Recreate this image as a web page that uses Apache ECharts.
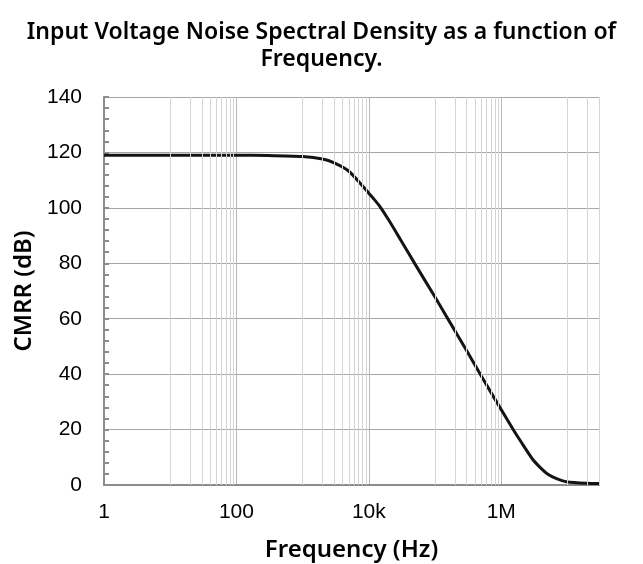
<!DOCTYPE html>
<html>
<head>
<meta charset="utf-8">
<script src="https://cdn.jsdelivr.net/npm/echarts@6/dist/echarts.min.js"></script>
<style>
  html, body { margin: 0; padding: 0; background: #fff; }
  #main { width: 643px; height: 564px; }
</style>
</head>
<body>
<div id="main"></div>
<script>
// frequency (Hz) and CMRR (dB)
var freqs = [1, 10, 100, 300, 1000, 2000, 3000, 5000, 8000, 10000, 12500, 15000, 20000, 30000,
  50000, 100000, 170000, 300000, 500000, 1e6, 1.5e6, 2e6, 3e6, 4e6, 5e6, 7e6, 1e7, 2e7, 3e7];
var cmrr = [119, 119, 119, 118.9, 118.5, 117.6, 116.2, 113.2, 108, 105.3, 102.6, 100.2, 95.6, 88.6,
  79.7, 67.8, 58.5, 48.5, 39.3, 27.2, 20.2, 15.5, 9.2, 6.0, 4.0, 2.2, 1.1, 0.6, 0.5];

// minor vertical gridlines (excel style, log base 100)
var minorFreqs = [10, 20, 30, 40, 50, 60, 70, 80, 90,
  1000, 2000, 3000, 4000, 5000, 6000, 7000, 8000, 9000,
  100000, 200000, 300000, 400000, 500000, 600000, 700000, 800000, 900000,
  1e7, 2e7, 3e7];

var xLabels = { 1: '1', 100: '100', 10000: '10k', 1000000: '1M' };

var chart = echarts.init(document.getElementById('main'));

var titleFont = '"Noto Sans", sans-serif';
var numFont = '"Liberation Sans", Arial, sans-serif';

chart.setOption({
  animation: false,
  title: {
    text: 'Input Voltage Noise Spectral Density as a function of\nFrequency.',
    left: 'center',
    top: 14,
    textStyle: {
      fontFamily: titleFont,
      fontSize: 23,
      fontWeight: 600,
      color: '#000',
      lineHeight: 27
    }
  },
  grid: { left: 104, right: 44, top: 97, bottom: 79, outerBoundsMode: 'none' },
  xAxis: {
    type: 'log',
    logBase: 100,
    min: 1,
    max: 3e7,
    name: 'Frequency (Hz)',
    nameLocation: 'middle',
    nameGap: 53,
    nameTextStyle: { fontFamily: titleFont, fontSize: 24, fontWeight: 600, color: '#000' },
    axisLine: { lineStyle: { color: '#8c8c8c', width: 2 } },
    axisTick: { show: false },
    axisLabel: {
      fontFamily: numFont, fontSize: 21, color: '#000', margin: 17,
      showMaxLabel: false,
      formatter: function (v) { return xLabels[Math.round(v)] || ''; }
    },
    splitLine: { show: true, lineStyle: { color: '#b8b8b8', width: 1 } }
  },
  yAxis: {
    type: 'value',
    min: 0,
    max: 140,
    interval: 20,
    name: 'CMRR (dB)',
    nameLocation: 'middle',
    nameGap: 62,
    nameTextStyle: { fontFamily: titleFont, fontSize: 24, fontWeight: 600, color: '#000' },
    axisLine: { show: true, lineStyle: { color: '#8c8c8c', width: 2 } },
    axisTick: { show: true, inside: true, length: 5, lineStyle: { color: '#8c8c8c', width: 2 } },
    minorTick: { show: true, splitNumber: 5, length: 5, lineStyle: { color: '#8c8c8c', width: 2 } },
    axisLabel: { fontFamily: numFont, fontSize: 21, color: '#000', margin: 22 },
    splitLine: { show: true, lineStyle: { color: '#a6a6a6', width: 1 } }
  },
  series: [
    {
      type: 'line',
      z: 1,
      data: [],
      silent: true,
      markLine: {
        silent: true,
        symbol: 'none',
        label: { show: false },
        lineStyle: { color: '#d4d4d4', width: 1, type: 'solid' },
        data: minorFreqs.map(function (f) { return { xAxis: f }; })
      }
    },
    {
      type: 'line',
      z: 3,
      data: freqs.map(function (f, i) { return [f, cmrr[i]]; }),
      showSymbol: false,
      smooth: 0.2,
      lineStyle: { color: '#141414', width: 3 }
    }
  ]
});
</script>
</body>
</html>
